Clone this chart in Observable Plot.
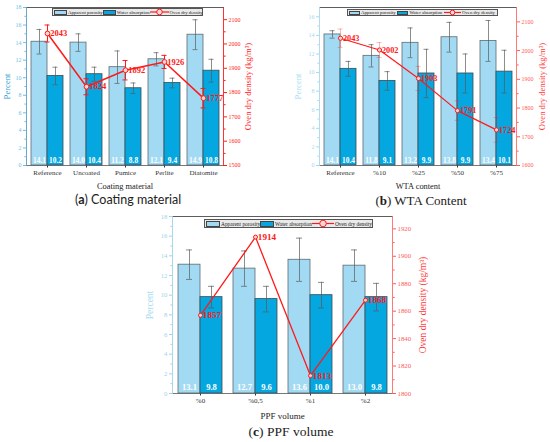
<!DOCTYPE html>
<html>
<head>
<meta charset="utf-8">
<script src="https://cdn.jsdelivr.net/npm/d3@7"></script>
<script src="https://cdn.jsdelivr.net/npm/@observablehq/plot@0.6"></script>
<style>
  html, body { margin: 0; padding: 0; background: #fff; }
  #root { position: relative; width: 550px; height: 442px; overflow: hidden; background: #fff; font-family: "Liberation Serif", "Times New Roman", serif; }
  #root svg, #root svg text { font-family: "Liberation Serif", "Times New Roman", serif !important; }
  .panel { position: absolute; }
  .legend { position: absolute; display: flex; align-items: center; justify-content: space-between; box-sizing: border-box; border: 0.8px solid #555; background: #eaeaea; font-family: "Liberation Serif", serif; color: #222; padding: 0 2px 0 1px; white-space: nowrap; }
  .legend .sw { display: inline-block; box-sizing: border-box; border: 0.6px solid #444; margin-right: 1px; }
  .legend .it { display: inline-flex; align-items: center; }
  .cap { position: absolute; transform: translate(-50%, -50%); white-space: nowrap; color: #222; line-height: 1; }
</style>
</head>
<body>
<div id="root"></div>
<script>
// ---------- Data ----------
const catA = ["Reference", "Uncoated", "Pumice", "Perlite", "Diatomite"];
const poroA = [14.1, 14.0, 11.2, 12.1, 14.9];
const poroErrA = [1.4, 1.0, 1.85, 0.75, 1.7];
const waterA = [10.2, 10.4, 8.8, 9.4, 10.8];
const waterErrA = [1.0, 0.8, 0.6, 0.55, 1.3];
const densA = [2043, 1824, 1892, 1926, 1777];
const densErrA = [35, 33, 40, 27, 40];

const catB = ["Reference", "%10", "%25", "%50", "%75"];
const poroB = [14.1, 11.8, 13.2, 13.8, 13.4];
const poroErrB = [0.4, 1.2, 1.6, 1.6, 2.2];
const waterB = [10.4, 9.1, 9.9, 9.9, 10.1];
const waterErrB = [0.8, 1.0, 2.6, 2.1, 2.3];
const densB = [2043, 2002, 1903, 1791, 1724];
const densErrB = [32, 26, 42, 34, 43];

const catC = ["%0", "%0,5", "%1", "%2"];
const poroC = [13.1, 12.7, 13.6, 13.0];
const poroErrC = [1.5, 1.8, 2.2, 1.6];
const waterC = [9.8, 9.6, 10.0, 9.8];
const waterErrC = [1.1, 1.3, 1.3, 1.4];
const densC = [1857, 1914, 1813, 1868];

const pctTicksA = [0, 2, 4, 6, 8, 10, 12, 14, 16, 18];
const pctTicksB = [0, 2, 4, 6, 8, 10, 12, 14, 16];
const pctTicksC = [0, 2, 4, 6, 8, 10, 12, 14, 16, 18];
const densTicksA = [1500, 1600, 1700, 1800, 1900, 2000, 2100];
const densTicksB = [1600, 1700, 1800, 1900, 2000, 2100];
const densTicksC = [1800, 1820, 1840, 1860, 1880, 1900, 1920];

const seriesNames = ["Apparent porosity", "Water absorption", "Oven dry density"];
const xTitles = ["Coating material", "WTA content", "PPF volume"];
const captions = [["a", "Coating material"], ["b", "WTA Content"], ["c", "PPF volume"]];

// ---------- Styles ----------
const colP = "#a3daf3";
const colW = "#04a7e0";
const RED = "#ff1a1a";
const SERIF = "'Liberation Serif', 'Times New Roman', serif";

function makePanel(o) {
  const n = o.cats.length;
  const range = o.width - o.ml - o.mr;
  const step = range / (n - o.pi + 2 * o.po);
  const bw = step * (1 - o.pi);
  const toY = d => (d - o.dMin) / (o.dMax - o.dMin) * o.yMax;
  const fromY = v => o.dMin + v / o.yMax * (o.dMax - o.dMin);
  const rows = o.cats.map((c, i) => ({
    c, p: o.poro[i], pe: o.poroErr[i], w: o.water[i], we: o.waterErr[i],
    d: o.dens[i], de: o.densErr ? o.densErr[i] : 0
  }));
  const capW = o.capW;
  const yMinor = d3.range(1, o.yMax, 2);
  const dStep = o.dTicks[1] - o.dTicks[0];
  const dMinor = d3.range(o.dTicks[0] + dStep / 2, o.dMax, dStep);
  const errCol = "#5a5a5a";
  const marks = [
    Plot.barY(rows, {x: "c", y: "p", insetRight: bw / 2, fill: colP, stroke: "#5c6a70", strokeWidth: 0.8}),
    Plot.barY(rows, {x: "c", y: "w", insetLeft: bw / 2, fill: colW, stroke: "#3d4b52", strokeWidth: 0.8}),
    Plot.ruleX(rows, {x: "c", y1: d => d.p - d.pe, y2: d => d.p + d.pe, dx: -bw / 4, stroke: errCol, strokeWidth: 0.7}),
    Plot.tickY(rows, {x: "c", y: d => d.p + d.pe, insetLeft: bw / 4 - capW / 2, insetRight: 3 * bw / 4 - capW / 2, stroke: errCol, strokeWidth: 0.7}),
    Plot.tickY(rows, {x: "c", y: d => d.p - d.pe, insetLeft: bw / 4 - capW / 2, insetRight: 3 * bw / 4 - capW / 2, stroke: errCol, strokeWidth: 0.7}),
    Plot.ruleX(rows, {x: "c", y1: d => d.w - d.we, y2: d => d.w + d.we, dx: bw / 4, stroke: errCol, strokeWidth: 0.7}),
    Plot.tickY(rows, {x: "c", y: d => d.w + d.we, insetLeft: 3 * bw / 4 - capW / 2, insetRight: bw / 4 - capW / 2, stroke: errCol, strokeWidth: 0.7}),
    Plot.tickY(rows, {x: "c", y: d => d.w - d.we, insetLeft: 3 * bw / 4 - capW / 2, insetRight: bw / 4 - capW / 2, stroke: errCol, strokeWidth: 0.7}),
    Plot.text(rows, {x: "c", y: 0, text: d => d.p.toFixed(1), dx: -bw / 4, dy: -o.valDy, fill: "white", fontSize: o.valFs, fontWeight: "bold"}),
    Plot.text(rows, {x: "c", y: 0, text: d => d.w.toFixed(1), dx: bw / 4, dy: -o.valDy, fill: "white", fontSize: o.valFs, fontWeight: "bold"}),
  ];
  if (o.densErr) {
    marks.push(
      Plot.ruleX(rows, {x: "c", y1: d => toY(d.d - d.de), y2: d => toY(d.d + d.de), stroke: RED, strokeOpacity: o.dErrOpacity, strokeWidth: 1}),
      Plot.tickY(rows, {x: "c", y: d => toY(d.d + d.de), insetLeft: bw / 2 - capW / 2, insetRight: bw / 2 - capW / 2, stroke: RED, strokeOpacity: o.dErrOpacity, strokeWidth: 1}),
      Plot.tickY(rows, {x: "c", y: d => toY(d.d - d.de), insetLeft: bw / 2 - capW / 2, insetRight: bw / 2 - capW / 2, stroke: RED, strokeOpacity: o.dErrOpacity, strokeWidth: 1})
    );
  }
  marks.push(
    Plot.line(rows, {x: "c", y: d => toY(d.d), stroke: RED, strokeWidth: o.lineW}),
    Plot.dot(rows, {x: "c", y: d => toY(d.d), r: o.dotR, stroke: RED, strokeWidth: 1, fill: "#ffd6d6"}),
    Plot.text(rows, {x: "c", y: d => toY(d.d), text: d => String(d.d), textAnchor: "start", dx: o.dotR + 0.3, fill: RED, fontWeight: "bold", fontSize: o.dFs}),
    Plot.axisY(o.yTicks, {anchor: "left", tickSize: 3, tickPadding: 2, color: o.leftTickCol, fontSize: o.tickFs, label: null}),
    Plot.axisY(yMinor, {anchor: "left", tickSize: 1.6, tickFormat: () => "", color: o.leftTickCol, label: null}),
    Plot.axisY(o.dTicks.map(toY), {anchor: "right", tickSize: 3, tickPadding: 2, tickFormat: v => String(Math.round(fromY(v))), color: o.rightTickCol, fontSize: o.tickFs, label: null}),
    Plot.axisY(dMinor.map(toY), {anchor: "right", tickSize: 1.6, tickFormat: () => "", color: o.rightTickCol, label: null}),
    Plot.axisX({tickSize: 2.5, tickPadding: 2, color: "#333", fontSize: o.xTickFs, label: null}),
    Plot.frame({anchor: "top", stroke: "#333", strokeWidth: 0.8}),
    Plot.frame({anchor: "bottom", stroke: "#555", strokeWidth: 0.8}),
    Plot.frame({anchor: "left", stroke: o.leftLineCol, strokeWidth: 0.9}),
    Plot.frame({anchor: "right", stroke: o.rightLineCol, strokeWidth: 0.9}),
    Plot.text([o.xTitle], {text: d => d, frameAnchor: "bottom", lineAnchor: "middle", textAnchor: "middle", dy: o.xTitleDy, fontSize: o.xTitleFs, fill: "#222"}),
    Plot.text(["Percent"], {text: d => d, frameAnchor: "left", lineAnchor: "middle", textAnchor: "middle", rotate: -90, dx: o.leftTitleDx, fontSize: o.yTitleFs, fill: o.leftTitleCol}),
    Plot.text(["Oven dry density (kg/m³)"], {text: d => d, frameAnchor: "right", lineAnchor: "middle", textAnchor: "middle", rotate: -90, dx: o.rightTitleDx, fontSize: o.yTitleFs, fill: o.rightTitleCol})
  );
  return Plot.plot({
    width: o.width, height: o.height,
    marginLeft: o.ml, marginRight: o.mr, marginTop: o.mt, marginBottom: o.mb,
    x: {domain: o.cats, paddingInner: o.pi, paddingOuter: o.po, label: null},
    y: {domain: [0, o.yMax], label: null},
    style: {fontFamily: SERIF, background: "transparent", overflow: "visible", color: "#333"},
    marks
  });
}

const root = document.getElementById("root");

function place(el, left, top) {
  const div = document.createElement("div");
  div.className = "panel";
  div.style.left = left + "px";
  div.style.top = top + "px";
  div.appendChild(el);
  root.appendChild(div);
}

function legend(left, top, width, height, fs) {
  const lg = document.createElement("div");
  lg.className = "legend";
  Object.assign(lg.style, {left: left + "px", top: top + "px", width: width + "px", height: height + "px", fontSize: fs + "px"});
  const swH = height - 3, swW = Math.round(height * 1.6);
  const mk = (html) => { const s = document.createElement("span"); s.className = "it"; s.innerHTML = html; lg.appendChild(s); };
  mk(`<span class="sw" style="width:${swW}px;height:${swH}px;background:${colP}"></span>${seriesNames[0]}`);
  mk(`<span class="sw" style="width:${swW}px;height:${swH}px;background:${colW}"></span>${seriesNames[1]}`);
  const lw = Math.round(height * 2.4);
  mk(`<svg width="${lw}" height="${height}" style="margin-right:1px"><line x1="0" x2="${lw}" y1="${height/2}" y2="${height/2}" stroke="${RED}" stroke-width="1.2"/><circle cx="${lw/2}" cy="${height/2}" r="${height/2-1.2}" fill="#ffd6d6" stroke="${RED}" stroke-width="1"/></svg>${seriesNames[2]}`);
  root.appendChild(lg);
}

function caption(letter, text, cx, cy, fs, family) {
  const d = document.createElement("div");
  d.className = "cap";
  Object.assign(d.style, {left: cx + "px", top: cy + "px", fontSize: fs + "px", fontFamily: family});
  d.innerHTML = `(<b>${letter}</b>) ${text}`;
  root.appendChild(d);
}

place(makePanel({
  cats: catA, poro: poroA, poroErr: poroErrA, water: waterA, waterErr: waterErrA, dens: densA, densErr: densErrA,
  yMax: 18, dMin: 1500, dMax: 2150, yTicks: pctTicksA, dTicks: densTicksA,
  width: 275, height: 195, ml: 26, mr: 52, mt: 7, mb: 30, pi: 0.18, po: 0.115,
  capW: 5, valFs: 7.4, valDy: 5, dFs: 8.5, dotR: 2.4, lineW: 1.5, dErrOpacity: 1,
  tickFs: 6, xTickFs: 7, xTitle: xTitles[0], xTitleDy: 21, xTitleFs: 8.4, yTitleFs: 8.6,
  leftTickCol: "#6fc1e4", leftLineCol: "#5b9fbf", leftTitleCol: "#2f9fd6", leftTitleDx: -19,
  rightTickCol: RED, rightLineCol: RED, rightTitleCol: RED, rightTitleDx: 25
}), 0, 0);

place(makePanel({
  cats: catB, poro: poroB, poroErr: poroErrB, water: waterB, waterErr: waterErrB, dens: densB, densErr: densErrB,
  yMax: 17, dMin: 1600, dMax: 2150, yTicks: pctTicksB, dTicks: densTicksB,
  width: 275, height: 195, ml: 44, mr: 34, mt: 7, mb: 30, pi: 0.18, po: 0.115,
  capW: 5, valFs: 7.4, valDy: 5, dFs: 8.3, dotR: 2.1, lineW: 1.2, dErrOpacity: 0.3,
  tickFs: 6, xTickFs: 7, xTitle: xTitles[1], xTitleDy: 21, xTitleFs: 8.4, yTitleFs: 8.6,
  leftTickCol: "#a8d8ee", leftLineCol: "#a8d8ee", leftTitleCol: "#a8dcf2", leftTitleDx: -21,
  rightTickCol: "#ff5a5a", rightLineCol: "#ff6a6a", rightTitleCol: "#ff3a3a", rightTitleDx: 26
}), 275, 0);

place(makePanel({
  cats: catC, poro: poroC, poroErr: poroErrC, water: waterC, waterErr: waterErrC, dens: densC, densErr: null,
  yMax: 18, dMin: 1800, dMax: 1929, yTicks: pctTicksC, dTicks: densTicksC,
  width: 320, height: 215, ml: 52, mr: 48, mt: 6, mb: 32, pi: 0.2, po: 0.1,
  capW: 6, valFs: 8.6, valDy: 6, dFs: 9.2, dotR: 2, lineW: 1.3, dErrOpacity: 1,
  tickFs: 6.8, xTickFs: 7, xTitle: xTitles[2], xTitleDy: 23, xTitleFs: 9, yTitleFs: 9.5,
  leftTickCol: "#9fd3ea", leftLineCol: "#9fd3ea", leftTitleCol: "#a8dcf2", leftTitleDx: -23,
  rightTickCol: "#ff5a5a", rightLineCol: "#ff6a6a", rightTitleCol: "#ff3a3a", rightTitleDx: 30
}), 120, 210);

legend(52, 8, 151, 8, 4.8);
legend(347, 9, 151, 7, 4.8);
legend(204, 219, 169, 9, 5.4);

caption(captions[0][0], captions[0][1], 128, 200, 12.5, "Lato, 'Open Sans', sans-serif");
caption(captions[1][0], captions[1][1], 421, 200, 13, SERIF);
caption(captions[2][0], captions[2][1], 291, 432, 13.5, SERIF);
</script>
</body>
</html>
